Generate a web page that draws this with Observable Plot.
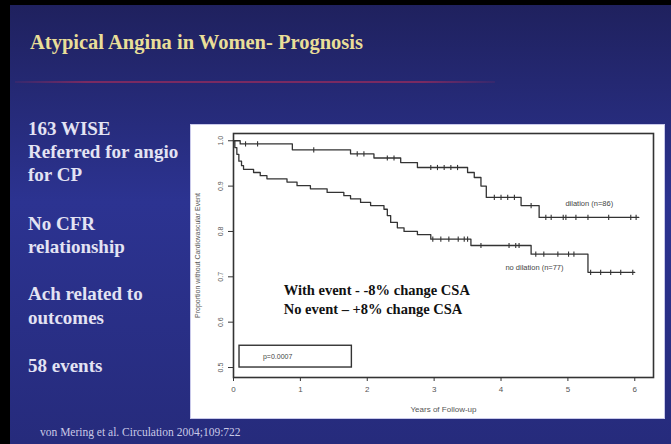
<!DOCTYPE html>
<html>
<head>
<meta charset="utf-8">
<script src="https://cdn.jsdelivr.net/npm/d3@7"></script>
<script src="https://cdn.jsdelivr.net/npm/@observablehq/plot@0.6"></script>
<style>
  html, body { margin: 0; padding: 0; background: #000; }
  #page { position: relative; width: 671px; height: 444px; overflow: hidden; background: #000; }
  #bg { position: absolute; left: 0; top: 0; }
  #panel { position: absolute; left: 190px; top: 124px; width: 473px; height: 293px; border: 1px solid #c9c9ea; background: #fff; }
  #panel svg { display: block; }
</style>
</head>
<body>
<div id="page">
  <svg id="bg" width="671" height="444"></svg>
  <div id="panel"></div>
</div>
<script>
// ---- slide text ----
const slideTitle = "Atypical Angina in Women- Prognosis";
const bulletLines = [
  ["163 WISE", "Referred for angio", "for CP"],
  ["No CFR", "relationship"],
  ["Ach related to", "outcomes"],
  ["58 events"]
];
const citation = "von Mering et al. Circulation 2004;109:722";

// ---- chart data ----
const yearTicks = [0, 1, 2, 3, 4, 5, 6];
const survTicks = [0.5, 0.6, 0.7, 0.8, 0.9, 1.0];
const seriesNames = ["dilation (n=86)", "no dilation (n=77)"];

// dilation: step times and survival after each step (last entry = end of follow-up)
const dilationTime = [0, 0.10, 0.88, 1.75, 2.10, 2.50, 2.75, 3.50, 3.60, 3.70, 3.78, 4.30, 4.57, 6.06];
const dilationSurv = [1.0, 0.993, 0.980, 0.971, 0.962, 0.952, 0.941, 0.930, 0.919, 0.900, 0.875, 0.857, 0.831, 0.831];
const dilationCensor = [0.18, 0.36, 1.20, 1.85, 1.95, 2.30, 2.40, 2.95, 3.05, 3.15, 3.25, 3.35, 3.90, 4.00, 4.10, 4.20, 4.45, 4.67, 4.75, 4.93, 4.97, 5.12, 5.30, 5.61, 5.94, 6.02];

// no dilation
const noDilationTime = [0, 0.02, 0.05, 0.08, 0.12, 0.15, 0.30, 0.40, 0.50, 0.80, 0.95, 1.15, 1.40, 1.65, 1.75, 1.90, 2.05, 2.25, 2.30, 2.35, 2.45, 2.55, 2.75, 2.95, 3.55, 4.45, 5.30, 6.00];
const noDilationSurv = [1.0, 0.985, 0.970, 0.955, 0.945, 0.937, 0.930, 0.923, 0.916, 0.909, 0.901, 0.894, 0.886, 0.879, 0.872, 0.864, 0.857, 0.849, 0.835, 0.820, 0.808, 0.800, 0.793, 0.783, 0.769, 0.750, 0.710, 0.710];
const noDilationCensor = [2.98, 3.10, 3.22, 3.36, 3.45, 3.50, 3.70, 4.12, 4.22, 4.27, 4.52, 4.64, 4.85, 5.01, 5.09, 5.34, 5.49, 5.64, 5.79, 5.97];

const annotationLines = ["With event - -8% change CSA", "No event \u2013 +8% change CSA"];
const pValueText = "p=0.0007";

// ---- background slide ----
const bg = d3.select("#bg");
const defs = bg.append("defs");
const grad = defs.append("linearGradient").attr("id", "slideGrad").attr("x1", 0).attr("y1", 0).attr("x2", 0).attr("y2", 1);
grad.append("stop").attr("offset", "0%").attr("stop-color", "#1f215e");
grad.append("stop").attr("offset", "45%").attr("stop-color", "#2c3391");
grad.append("stop").attr("offset", "100%").attr("stop-color", "#262b7c");
const lineGrad = defs.append("linearGradient").attr("id", "lineGrad").attr("x1", 0).attr("y1", 0).attr("x2", 1).attr("y2", 0);
lineGrad.append("stop").attr("offset", "0%").attr("stop-color", "#7a2a62").attr("stop-opacity", 0.2);
lineGrad.append("stop").attr("offset", "15%").attr("stop-color", "#7a2a62").attr("stop-opacity", 1);
lineGrad.append("stop").attr("offset", "85%").attr("stop-color", "#7a2a62").attr("stop-opacity", 1);
lineGrad.append("stop").attr("offset", "100%").attr("stop-color", "#7a2a62").attr("stop-opacity", 0.2);

bg.append("rect").attr("x", 10).attr("y", 5).attr("width", 661).attr("height", 439).attr("fill", "url(#slideGrad)");
bg.append("rect").attr("x", 15).attr("y", 81).attr("width", 480).attr("height", 2).attr("fill", "url(#lineGrad)");

bg.append("text").attr("x", 30).attr("y", 49)
  .attr("font-family", "'Liberation Serif', 'Times New Roman', serif")
  .attr("font-weight", "bold").attr("font-size", 20.5)
  .attr("fill", "#e9de98").text(slideTitle);

const baselines = [[135, 158, 181], [230, 253], [300, 324], [372]];
bulletLines.forEach((group, gi) => {
  group.forEach((line, li) => {
    bg.append("text").attr("x", 28).attr("y", baselines[gi][li])
      .attr("font-family", "'Liberation Serif', 'Times New Roman', serif")
      .attr("font-weight", "bold").attr("font-size", 19)
      .attr("fill", "#e3e3f3").text(line);
  });
});

bg.append("text").attr("x", 40).attr("y", 436)
  .attr("font-family", "'Liberation Serif', 'Times New Roman', serif")
  .attr("font-size", 11.5).attr("fill", "#c9c9e6").text(citation);

// ---- chart ----
function stepData(times, survs) {
  return times.map((t, i) => ({t, s: survs[i]}));
}
function survAt(times, survs, t) {
  let s = survs[0];
  for (let i = 0; i < times.length; i++) if (times[i] <= t) s = survs[i];
  return s;
}
const dilation = stepData(dilationTime, dilationSurv);
const noDilation = stepData(noDilationTime, noDilationSurv);
const dilationMarks = dilationCensor.map(t => ({t, s: survAt(dilationTime, dilationSurv, t)}));
const noDilationMarks = noDilationCensor.map(t => ({t, s: survAt(noDilationTime, noDilationSurv, t)}));

const tickSymbol = {
  draw(context, size) {
    const r = Math.sqrt(size / Math.PI);
    context.moveTo(0, -r);
    context.lineTo(0, r);
  }
};

const ink = "#333";
const chart = Plot.plot({
  width: 473,
  height: 293,
  marginLeft: 42,
  marginRight: 11,
  marginTop: 8,
  marginBottom: 41,
  style: {background: "white", fontFamily: "'Liberation Sans', Arial, sans-serif", fontSize: "8px", color: "#555"},
  x: {domain: [0, 6.28]},
  y: {domain: [0.478, 1.016]},
  marks: [
    Plot.axisX({ticks: yearTicks, tickFormat: d => String(d), tickSize: 4, tickPadding: 5, stroke: ink,
      label: "Years of Follow-up", labelAnchor: "center", labelOffset: 34, labelArrow: "none", fontSize: 8}),
    Plot.axisY({ticks: survTicks, tickFormat: d => d.toFixed(1), tickSize: 5, tickPadding: 6, tickRotate: -90, stroke: ink,
      label: "Proportion without Cardiovascular Event", labelAnchor: "center", labelOffset: 38, labelArrow: "none", fontSize: 7}),
    Plot.frame({stroke: ink, strokeWidth: 1.6}),
    Plot.line(dilation, {x: "t", y: "s", curve: "step-after", stroke: ink, strokeWidth: 1.3}),
    Plot.line(noDilation, {x: "t", y: "s", curve: "step-after", stroke: ink, strokeWidth: 1.3}),
    Plot.dot(dilationMarks, {x: "t", y: "s", symbol: tickSymbol, r: 2.6, stroke: ink, strokeWidth: 1.1, fill: "none"}),
    Plot.dot(noDilationMarks, {x: "t", y: "s", symbol: tickSymbol, r: 2.6, stroke: ink, strokeWidth: 1.1, fill: "none"}),
    Plot.text([seriesNames[0]], {x: 5.32, y: 0.861, text: d => d, fontSize: 7.5, fill: "#444"}),
    Plot.text([seriesNames[1]], {x: 4.50, y: 0.720, text: d => d, fontSize: 7.5, fill: "#444"}),
    Plot.text([annotationLines.join("\n")], {x: 0.75, y: 0.652, text: d => d, textAnchor: "start", lineAnchor: "middle",
      lineHeight: 1.27, fontSize: 14.5, fontWeight: "bold", fontFamily: "'Liberation Serif', 'Times New Roman', serif", fill: "#111"}),
    Plot.rect([pValueText], {x1: 0.09, x2: 1.77, y1: 0.500, y2: 0.548, fill: "none", stroke: ink, strokeWidth: 1.4}),
    Plot.text([pValueText], {x: 0.44, y: 0.524, text: d => d, textAnchor: "start", fontSize: 7, fill: "#444"})
  ]
});
document.getElementById("panel").appendChild(chart);
</script>
</body>
</html>
